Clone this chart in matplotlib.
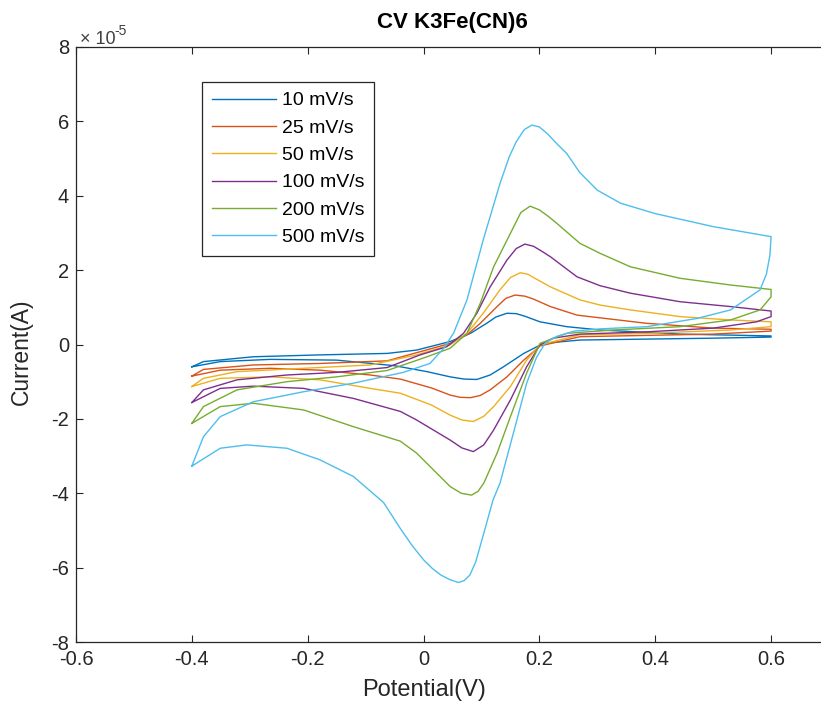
import numpy as np
import matplotlib
matplotlib.use('Agg')
import matplotlib.pyplot as plt
from matplotlib.ticker import FuncFormatter

# scan rates shown in the legend
labels = ['10 mV/s', '25 mV/s', '50 mV/s', '100 mV/s', '200 mV/s', '500 mV/s']

# potential (V) and current (x1e-5 A), forward scan -0.4 -> 0.6 then reverse back to -0.4
pot_10 = [-0.40, -0.38, -0.294, -0.18, -0.063, -0.012, 0.046, 0.081, 0.109, 0.125, 0.144, 0.16, 0.175, 0.201, 0.247, 0.305, 0.443, 0.60,
          0.60, 0.50, 0.27, 0.207, 0.173, 0.138, 0.115, 0.092, 0.07, 0.046, 0.006, -0.05, -0.15, -0.265, -0.351, -0.40]
cur_10 = [-0.60, -0.46, -0.33, -0.28, -0.24, -0.15, 0.08, 0.30, 0.57, 0.74, 0.84, 0.83, 0.76, 0.61, 0.48, 0.39, 0.28, 0.23,
          0.20, 0.17, 0.12, 0.03, -0.24, -0.60, -0.82, -0.94, -0.93, -0.87, -0.73, -0.57, -0.42, -0.40, -0.46, -0.60]

pot_25 = [-0.40, -0.38, -0.294, -0.179, -0.063, -0.012, 0.046, 0.075, 0.098, 0.127, 0.142, 0.158, 0.175, 0.19, 0.219, 0.265, 0.385, 0.50, 0.60,
          0.60, 0.50, 0.27, 0.201, 0.173, 0.144, 0.115, 0.098, 0.081, 0.063, 0.046, 0.014, -0.04, -0.092, -0.179, -0.265, -0.351, -0.40]
cur_25 = [-0.85, -0.67, -0.55, -0.51, -0.44, -0.22, 0.03, 0.26, 0.57, 1.02, 1.24, 1.33, 1.30, 1.22, 1.02, 0.79, 0.57, 0.44, 0.41,
          0.36, 0.28, 0.21, -0.04, -0.42, -0.87, -1.22, -1.37, -1.43, -1.42, -1.36, -1.17, -0.93, -0.82, -0.69, -0.64, -0.69, -0.85]

pot_50 = [-0.40, -0.38, -0.322, -0.207, -0.092, -0.012, 0.046, 0.075, 0.103, 0.132, 0.15, 0.167, 0.18, 0.19, 0.219, 0.27, 0.305, 0.357, 0.443, 0.53, 0.60,
          0.60, 0.53, 0.385, 0.27, 0.201, 0.178, 0.15, 0.121, 0.104, 0.086, 0.066, 0.046, 0.014, -0.04, -0.092, -0.179, -0.265, -0.351, -0.40]
cur_50 = [-1.13, -0.91, -0.73, -0.64, -0.55, -0.28, -0.01, 0.30, 0.84, 1.47, 1.80, 1.93, 1.89, 1.80, 1.55, 1.20, 1.06, 0.93, 0.75, 0.66, 0.61,
          0.48, 0.39, 0.30, 0.26, -0.01, -0.42, -1.13, -1.67, -1.93, -2.07, -2.03, -1.90, -1.63, -1.31, -1.18, -0.95, -0.87, -0.91, -1.13]

pot_100 = [-0.40, -0.38, -0.322, -0.236, -0.15, -0.063, -0.006, 0.040, 0.069, 0.092, 0.115, 0.144, 0.16, 0.175, 0.19, 0.205, 0.219, 0.265, 0.305, 0.357, 0.443, 0.53, 0.60,
           0.60, 0.575, 0.50, 0.385, 0.27, 0.224, 0.201, 0.178, 0.15, 0.121, 0.104, 0.086, 0.066, 0.046, 0.017, -0.012, -0.04, -0.121, -0.207, -0.294, -0.351, -0.40]
cur_100 = [-1.56, -1.22, -0.95, -0.82, -0.75, -0.62, -0.28, -0.06, 0.30, 0.84, 1.55, 2.27, 2.58, 2.70, 2.64, 2.50, 2.36, 1.82, 1.58, 1.38, 1.15, 1.02, 0.90,
           0.75, 0.61, 0.44, 0.34, 0.28, 0.17, -0.01, -0.60, -1.49, -2.30, -2.70, -2.88, -2.78, -2.57, -2.30, -2.03, -1.80, -1.45, -1.18, -1.12, -1.18, -1.56]

pot_200 = [-0.40, -0.38, -0.322, -0.236, -0.15, -0.063, 0.006, 0.046, 0.075, 0.098, 0.121, 0.150, 0.168, 0.184, 0.20, 0.215, 0.230, 0.270, 0.305, 0.357, 0.443, 0.53, 0.60,
           0.60, 0.581, 0.53, 0.443, 0.328, 0.247, 0.201, 0.178, 0.150, 0.127, 0.104, 0.094, 0.083, 0.065, 0.046, 0.017, -0.012, -0.04, -0.121, -0.207, -0.294, -0.351, -0.40]
cur_200 = [-2.12, -1.67, -1.22, -1.00, -0.87, -0.70, -0.33, -0.10, 0.30, 1.11, 2.09, 2.99, 3.55, 3.72, 3.62, 3.45, 3.26, 2.72, 2.45, 2.09, 1.78, 1.60, 1.48,
           1.28, 0.93, 0.66, 0.48, 0.39, 0.30, 0.03, -0.77, -1.94, -2.92, -3.73, -3.95, -4.05, -4.00, -3.82, -3.37, -2.92, -2.60, -2.21, -1.76, -1.58, -1.67, -2.12]

pot_500 = [-0.40, -0.38, -0.351, -0.294, -0.207, -0.121, -0.035, 0.011, 0.035, 0.052, 0.075, 0.103, 0.132, 0.148, 0.160, 0.174, 0.187, 0.20, 0.215, 0.23, 0.247, 0.27, 0.30, 0.34, 0.40, 0.50, 0.60,
           0.598, 0.592, 0.581, 0.53, 0.472, 0.386, 0.305, 0.26, 0.23, 0.21, 0.195, 0.178, 0.155, 0.132, 0.12, 0.10, 0.09, 0.08, 0.07, 0.06, 0.045, 0.03, 0.015, 0.0, -0.02, -0.04, -0.069, -0.121, -0.179, -0.236, -0.305, -0.351, -0.40]
cur_500 = [-3.27, -2.48, -1.94, -1.54, -1.27, -1.04, -0.75, -0.51, -0.10, 0.31, 1.20, 2.81, 4.33, 5.05, 5.45, 5.78, 5.90, 5.85, 5.65, 5.40, 5.14, 4.62, 4.15, 3.80, 3.52, 3.17, 2.90,
           2.40, 1.90, 1.47, 0.93, 0.70, 0.48, 0.42, 0.36, 0.22, 0.04, -0.35, -1.04, -2.39, -3.73, -4.18, -5.30, -5.85, -6.20, -6.35, -6.40, -6.32, -6.20, -6.02, -5.79, -5.40, -4.95, -4.25, -3.55, -3.10, -2.79, -2.70, -2.79, -3.27]

pots = [pot_10, pot_25, pot_50, pot_100, pot_200, pot_500]
curs = [cur_10, cur_25, cur_50, cur_100, cur_200, cur_500]
colors = ['#0072BD', '#D95319', '#EDB120', '#7E2F8E', '#77AC30', '#4DBEEE']

plt.rcParams['font.family'] = ['Liberation Sans', 'DejaVu Sans']
plt.rcParams['axes.unicode_minus'] = False

fig = plt.figure(figsize=(8.21, 7.14), dpi=100)
ax = fig.add_axes([76 / 821, 72 / 714, 753 / 821, 595 / 714])

for p, c, col, lab in zip(pots, curs, colors, labels):
    ax.plot(p, np.array(c) * 1e-5, color=col, lw=1.0, label=lab)

ax.set_xlim(-0.6, 0.7)
ax.set_ylim(-8e-5, 8e-5)
ax.set_xticks([-0.6, -0.4, -0.2, 0, 0.2, 0.4, 0.6])
ax.set_yticks(np.arange(-8, 9, 2) * 1e-5)
ax.xaxis.set_major_formatter(FuncFormatter(lambda v, pos: '%g' % round(v, 2)))
ax.yaxis.set_major_formatter(FuncFormatter(lambda v, pos: '%g' % round(v * 1e5)))

ax.tick_params(direction='in', top=True, right=False, length=5, width=0.8,
               labelsize=14.5, colors='#262626')
ax.tick_params(axis='x', pad=6)
ax.tick_params(axis='y', pad=5)
ax.spines['right'].set_visible(False)
for s in ax.spines.values():
    s.set_color('#262626')
    s.set_linewidth(0.9)

# exponent written the MATLAB way, with a plain hyphen
fig.text(80 / 821, 1 - 44 / 714, '\u00d7 10', fontsize=13, color='#404040', va='baseline')
fig.text(114 / 821, 1 - 35 / 714, '-5', fontsize=10, color='#404040', va='baseline')

ax.set_xlabel('Potential(V)', fontsize=17, color='#262626')
ax.xaxis.set_label_coords((424 - 76) / 753, -0.062)
ax.set_ylabel('Current(A)', fontsize=16.5, color='#262626')
ax.yaxis.set_label_coords(-0.057, (642 - 352) / 595)
ax.set_title('CV K3Fe(CN)6', fontsize=16, fontweight='bold', pad=14)

leg = ax.legend(loc='upper left', bbox_to_anchor=((202 - 76) / 753, (642 - 82) / 595),
                borderaxespad=0, fontsize=14, handlelength=3.3, handletextpad=0.3,
                labelspacing=0.5, borderpad=0.5, fancybox=False, framealpha=1)
leg.get_frame().set_edgecolor('#262626')
leg.get_frame().set_linewidth(0.9)

fig.savefig('out.png', dpi=100)
